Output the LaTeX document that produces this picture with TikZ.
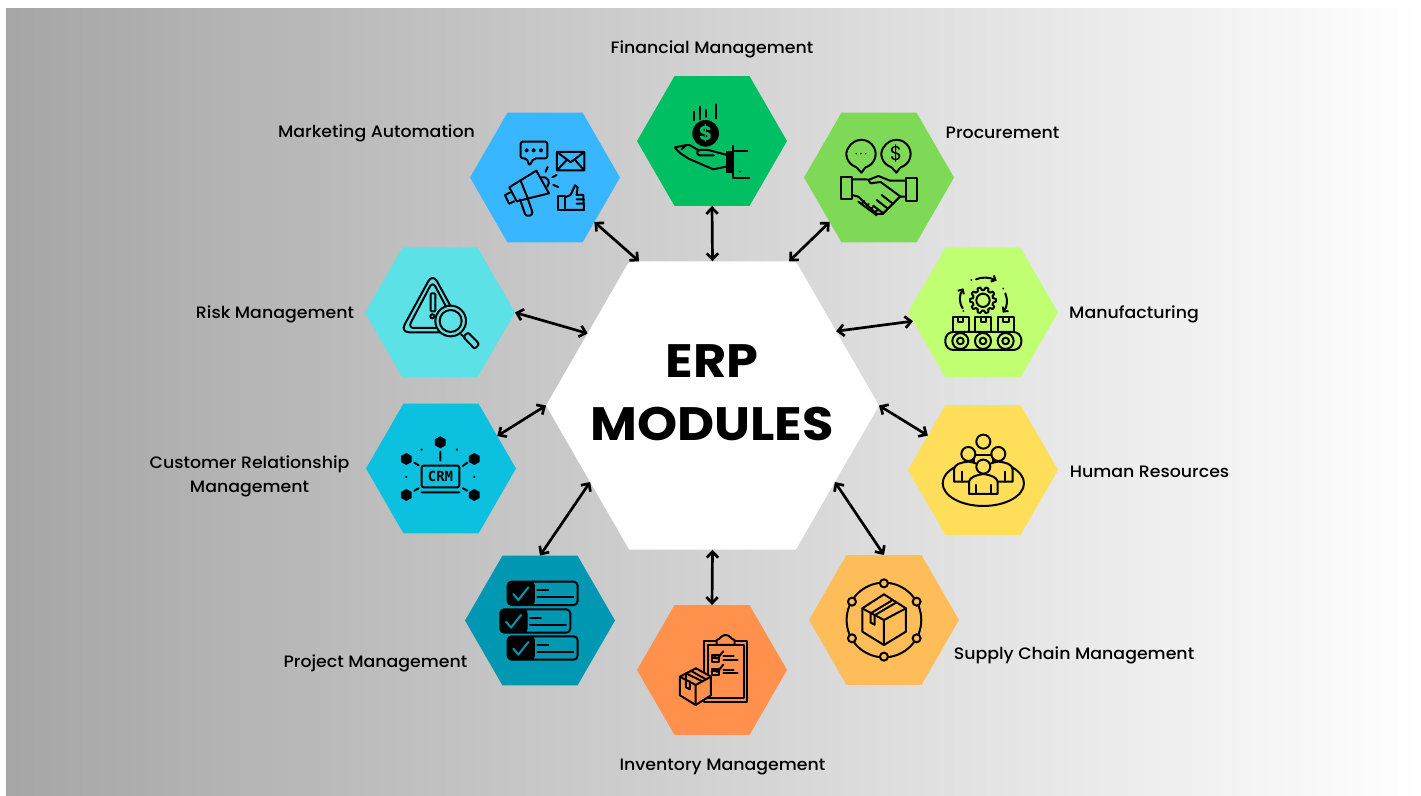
\documentclass[tikz,border=0pt]{standalone}
\usepackage{fontspec}
\setmainfont{Poppins}
\newfontfamily\lblfont[FakeStretch=1.05]{Poppins Medium}
\newfontfamily\ttlfont[FakeStretch=1.09]{Poppins Bold}
\newfontfamily\crmfont{DejaVu Sans Mono Bold}
\usetikzlibrary{shapes.geometric,arrows.meta}
\definecolor{cMkt}{HTML}{38B6FF}
\definecolor{cFin}{HTML}{00BF63}
\definecolor{cPro}{HTML}{7ED957}
\definecolor{cMan}{HTML}{C1FF72}
\definecolor{cHR}{HTML}{FFDE59}
\definecolor{cSup}{HTML}{FFBD59}
\definecolor{cInv}{HTML}{FF914D}
\definecolor{cPrj}{HTML}{0097B2}
\definecolor{cCrm}{HTML}{0CC0DF}
\definecolor{cRsk}{HTML}{5CE1E6}
\tikzset{
  hexa/.style={regular polygon,regular polygon sides=6,minimum size=150bp,inner sep=0pt,outer sep=0pt,draw=none},
  centrehex/.style={regular polygon,regular polygon sides=6,minimum size=333bp,inner sep=0pt,outer sep=0pt,draw=none,fill=white},
  lbl/.style={font=\fontsize{16.6}{24}\lblfont\selectfont,text=black,align=center,inner sep=0pt},
  title/.style={font=\fontsize{47}{63}\ttlfont\selectfont,text=black,align=center,inner sep=0pt},
  link/.style={draw=black,line width=2.7bp,{Straight Barb[length=6bp,width=11.5bp]}-{Straight Barb[length=6bp,width=11.5bp]}},
  ic/.style={draw=black,line width=2bp,line join=round,line cap=round},
  zoomA/.style={shift={(460,60)},x=.3333bp,y=-.3333bp},
  zoomB/.style={shift={(360,240)},x=.3333bp,y=-.3333bp},
  zoomC/.style={shift={(900,240)},x=.3333bp,y=-.3333bp},
  zoomD/.style={shift={(460,550)},x=.3333bp,y=-.3333bp},
}
\begin{document}
\begin{tikzpicture}[x=1bp,y=-1bp]
\useasboundingbox (0,0) rectangle (1421,795);
\shade[left color=black!35,right color=white] (6,8.5) rectangle (1421,795);

% hexagons
\node[centrehex] (erp) at (712.5,405.5) {};
\node[hexa,fill=cMkt] (mkt) at (545,177.5) {};
\node[hexa,fill=cFin] (fin) at (712,141) {};
\node[hexa,fill=cPro] (pro) at (879,177.5) {};
\node[hexa,fill=cMan] (man) at (983,312.5) {};
\node[hexa,fill=cHR]  (hr)  at (983,470) {};
\node[hexa,fill=cSup] (sup) at (884,620) {};
\node[hexa,fill=cInv] (inv) at (712,670) {};
\node[hexa,fill=cPrj] (prj) at (540,620.5) {};
\node[hexa,fill=cCrm] (crm) at (441,468.5) {};
\node[hexa,fill=cRsk] (rsk) at (440,312.5) {};

% title
\node[title] (ttl) at (712,393) {ERP\\MODULES};

% labels
\node[lbl] (lfin) at (712,49) {Financial Management};
\node[lbl] (lmkt) at (376.5,133) {Marketing Automation};
\node[lbl] (lpro) at (1002.5,133) {Procurement};
\node[lbl] (lrsk) at (275,314) {Risk Management};
\node[lbl] (lman) at (1134,314) {Manufacturing};
\node[lbl] (lcrm) at (249.5,476) {Customer Relationship\\Management};
\node[lbl] (lhr)  at (1149.5,472) {Human Resources};
\node[lbl] (lsup) at (1074,655) {Supply Chain Management};
\node[lbl] (lprj) at (375.5,663) {Project Management};
\node[lbl] (linv) at (722.5,767) {Inventory Management};

% connectors
\draw[link] (mkt.-42) -- (erp.117.7);
\draw[link] (fin.-90) -- (erp.90);
\draw[link] (pro.222.8) -- (erp.62.6);
\draw[link] (man.187) -- (erp.31.2);
\draw[link] (hr.148) -- (erp.0);
\draw[link] (sup.90) -- (erp.-32.2);
\draw[link] (inv.90) -- (erp.-90);
\draw[link] (prj.90) -- (erp.212.5);
\draw[link] (crm.30.6) -- (erp.180);
\draw[link] (rsk.0) -- (erp.150);

% ---------- icons, top row
\begin{scope}[zoomA]
  % marketing: bubble
  \draw[ic,rounded corners=2bp] (182,245) -- (262,245) -- (262,295) -- (222,295) -- (208,317) -- (200,295) -- (182,295) -- cycle;
  \foreach \q in {200,221,243} \fill (\q,271) circle (6);
  % envelope
  \draw[ic] (291,276) rectangle (373,331) (291,276) -- (332,307) -- (373,276) (291,331) -- (320,300) (373,331) -- (345,300);
  % rays
  \draw[ic] (263,321) -- (257,335) (290,345) -- (277,352) (295,381) -- (280,375);
  % megaphone
  \draw[ic] (180,418) -- (195,462) .. controls (198,472) and (220,468) .. (217,456) -- (202,412);
  \draw[ic] (150,398) -- (135,405) -- (147,431) -- (163,424);
  \draw[ic] (229,332) -- (148,382) -- (170,424) -- (267,400) -- cycle (182,362) -- (202,412);
  \draw[ic] (245,352) .. controls (265,350) and (272,365) .. (262,380);
  % thumb
  \draw[ic] (295,407) rectangle (315,450);
  \draw[ic] (315,412) -- (332,405) -- (345,376) -- (353,382) -- (350,405) -- (370,405) -- (372,450) -- (315,450) (350,418) -- (372,418) (350,431) -- (372,431);

  % financial
  \draw[ic] (703,155) -- (703,181) (720,140) -- (720,178) (738,150) -- (738,171) (768,133) -- (768,175);
  \fill (737,220) circle (40);
  \node[text=cFin,font=\fontsize{20}{20}\selectfont\bfseries,inner sep=0pt] (dollarA) at (737,219) {\$};
  \draw[ic] (798,284) -- (745,270) -- (716,270) .. controls (708,276) and (712,286) .. (720,286) -- (762,286) (718,272) -- (690,256) -- (680,255) -- (645,262) .. controls (650,272) and (665,284) .. (690,298) -- (760,328) -- (798,320) (678,256) -- (665,268);
  \fill (798,272) rectangle (820,340);
  \draw[ic] (820,258) -- (820,355) -- (868,355) (820,272) -- (862,272);
  \fill (840,335) circle (3);

  % procurement
  \draw[ic] (1190,322) .. controls (1160,312) and (1152,280) .. (1166,262) .. controls (1184,232) and (1226,232) .. (1242,262) .. controls (1254,284) and (1244,314) .. (1217,322) -- (1204,338) -- cycle;
  \draw[ic] (1295,322) .. controls (1265,312) and (1257,280) .. (1271,262) .. controls (1289,232) and (1331,232) .. (1347,262) .. controls (1359,284) and (1349,314) .. (1322,322) -- (1309,338) -- cycle;
  \foreach \q in {1189,1203,1217} \fill (\q,281) circle (2.5);
  \node[font=\fontsize{20}{20}\selectfont,inner sep=0pt] (dollarB) at (1308,281) {\$};
  \draw[ic] (1143,350) rectangle (1175,418) (1338,353) rectangle (1370,422);
  \draw[ic] (1175,358) -- (1222,358) (1175,405) -- (1195,410) -- (1250,462) -- (1268,462) -- (1320,410) -- (1338,410);
  \draw[ic] (1338,362) -- (1290,362) -- (1255,348) -- (1225,360) -- (1232,370) -- (1262,366) -- (1322,410);
  \draw[ic] (1195,425) -- (1250,466) (1265,405) -- (1300,432) (1250,420) -- (1285,447) (1240,437) -- (1270,460);
  \foreach \q/\r in {1205/432,1218/441,1231/450,1244/459} \draw[ic] (\q,\r) -- +(8,-9);
\end{scope}

% ---------- icons, left column
\begin{scope}[zoomB]
  % risk
  \draw[ic,rounded corners=9bp] (218,100) -- (315,277) -- (121,277) -- cycle;
  \draw[ic,rounded corners=6bp] (218,124) -- (292,264) -- (144,264) -- cycle;
  \fill[cRsk] (272,243) circle (48);
  \draw[ic,fill=cRsk] (272,243) circle (46);
  \draw[ic] (272,243) circle (33);
  \draw[ic,rounded corners=1bp] (212,160) rectangle (226,214);
  \draw[ic] (217,229) circle (6);
  \draw[ic] (303,283) -- (315,295);
  \draw[ic,rounded corners=2bp] (310,291) -- (324,277) -- (358,312) -- (344,327) -- cycle;

  % crm
  \foreach \q/\r in {241/607,139/657,343/657,139/765,343/765}
    \fill (\q,\r-18) -- ++(16,9) -- ++(0,18) -- ++(-16,9) -- ++(-16,-9) -- ++(0,-18) -- cycle;
  \draw[ic] (241,635) -- (241,662) (163,668) -- (176,676) (322,668) -- (308,678) (163,752) -- (176,745) (322,752) -- (308,745) (185,757) -- (298,757);
  \draw[ic,rounded corners=2bp] (185,677) rectangle (298,742);
  \node[font=\fontsize{14}{14}\crmfont\selectfont,inner sep=0pt] (crmtxt) at (241.5,710) {CRM};
  \foreach \q/\r in {185/629,291/629,139/711,343/711} \fill (\q,\r) circle (3.5);
\end{scope}

% ---------- icons, right column
\begin{scope}[zoomC]
  % manufacturing
  \draw[ic,rounded corners=8bp] (136,276) rectangle (364,330);
  \foreach \q in {181,249,317} {
    \draw[ic] (\q,303) circle (24);
    \draw[ic] (\q,303) circle (10);
  }
  \foreach \q in {158,226,294} {
    \draw[ic] (\q,276) -- (\q,231) -- (\q+48,231) -- (\q+48,276);
    \draw[ic] (\q+16,231) -- (\q+16,246) -- (\q+32,246) -- (\q+32,231);
  }
  \draw[ic,shift={(249,181)}] plot[domain=0:360,samples=121] (\x:{35+4*sign(cos(10*\x))}) -- cycle;
  \draw[ic] (249,181) circle (20);
  \draw[ic,-{Straight Barb[length=3.5bp,width=7bp]}] (228,118) .. controls (245,110) and (270,112) .. (290,122);
  \draw[ic,-{Straight Barb[length=3.5bp,width=7bp]}] (188,205) .. controls (176,185) and (178,165) .. (190,145);
  \draw[ic,-{Straight Barb[length=3.5bp,width=7bp]}] (316,160) .. controls (324,180) and (322,200) .. (308,218);
  \fill (214,120) circle (3) (310,146) circle (3) (190,213) circle (3);

  % human resources
  \draw[ic] (250,730) ellipse (122 and 68);
  \draw[ic,fill=cHR] (222,645) -- (278,645) -- (278,690) -- (222,690) -- cycle;
  \draw[ic,fill=cHR] (250,605) circle (21);
  \draw[ic,fill=cHR] (162,725) -- (162,688) .. controls (165,672) and (180,668) .. (205,665) .. controls (225,668) and (240,672) .. (248,688) -- (248,725) -- cycle;
  \draw[ic,fill=cHR] (338,725) -- (338,688) .. controls (335,672) and (320,668) .. (295,665) .. controls (275,668) and (260,672) .. (252,688) -- (252,725) -- cycle;
  \draw[ic,fill=cHR] (205,642) circle (21);
  \draw[ic,fill=cHR] (295,642) circle (21);
  \draw[ic] (185,695) -- (185,725) (315,695) -- (315,725);
  \draw[ic,fill=cHR] (207,762) -- (207,725) .. controls (210,712) and (225,706) .. (250,702) .. controls (275,706) and (290,712) .. (293,725) -- (293,762) -- cycle;
  \draw[ic,fill=cHR] (250,680) circle (21);
  \draw[ic] (228,735) -- (228,762) (273,735) -- (273,762);
\end{scope}

% ---------- icons, bottom row
\begin{scope}[zoomD]
  % project
  \foreach \dx/\dy in {0/0,-22/83,0/164} {
    \begin{scope}[shift={(\dx,\dy)}]
      \fill[rounded corners=4bp] (143,95) rectangle (225,165);
      \draw[ic,rounded corners=4bp] (143,95) rectangle (353,165);
      \fill (150,95) rectangle (222,165);
      \draw[line width=2bp,draw=cPrj,line cap=round,line join=round] (160,132) -- (175,150) -- (205,112);
      \draw[ic] (232,120) -- (265,120) (232,142) -- (340,142);
    \end{scope}
  }

  % inventory
  \draw[ic] (733,273) rectangle (862,455);
  \draw[ic] (745,286) rectangle (851,443);
  \draw[ic,fill=cInv] (770,285) -- (770,270) .. controls (782,268) and (783,255) .. (797,255) .. controls (811,255) and (812,268) .. (824,270) -- (824,285) -- cycle;
  \foreach \dy in {0,40} {
    \begin{scope}[shift={(0,\dy)}]
      \draw[ic] (757,316) rectangle (778,335) (757,323) -- (778,323);
      \draw[ic] (762,318) -- (772,326) -- (790,304);
      \draw[ic] (790,319) -- (821,319) (790,330) -- (833,330);
    \end{scope}
  }
  \draw[ic,fill=cInv] (660,380) -- (708,355) -- (753,380) -- (753,436) -- (707,465) -- (660,436) -- cycle;
  \draw[ic] (660,380) -- (707,405) -- (753,380) (707,405) -- (707,465);
  \draw[ic] (678,370) -- (725,393) (692,362) -- (736,387);
  \draw[ic] (678,370) -- (678,412) -- (690,418) -- (690,394);

  % supply chain
  \draw[ic] (1272,210) circle (112);
  \foreach \q/\r in {1272/100,1370/155,1370/265,1272/320,1176/265,1176/155}
    \draw[ic,fill=cSup] (\q,\r) circle (12);
  \draw[ic] (1207,175) -- (1272,133) -- (1338,175) -- (1338,245) -- (1272,285) -- (1207,245) -- cycle;
  \draw[ic] (1207,175) -- (1272,210) -- (1338,175) (1272,210) -- (1272,285);
  \draw[ic] (1232,190) -- (1232,218) -- (1244,224) -- (1244,196);
  \draw[ic] (1232,190) -- (1295,152) (1244,196) -- (1308,158);
\end{scope}
\end{tikzpicture}
\end{document}
